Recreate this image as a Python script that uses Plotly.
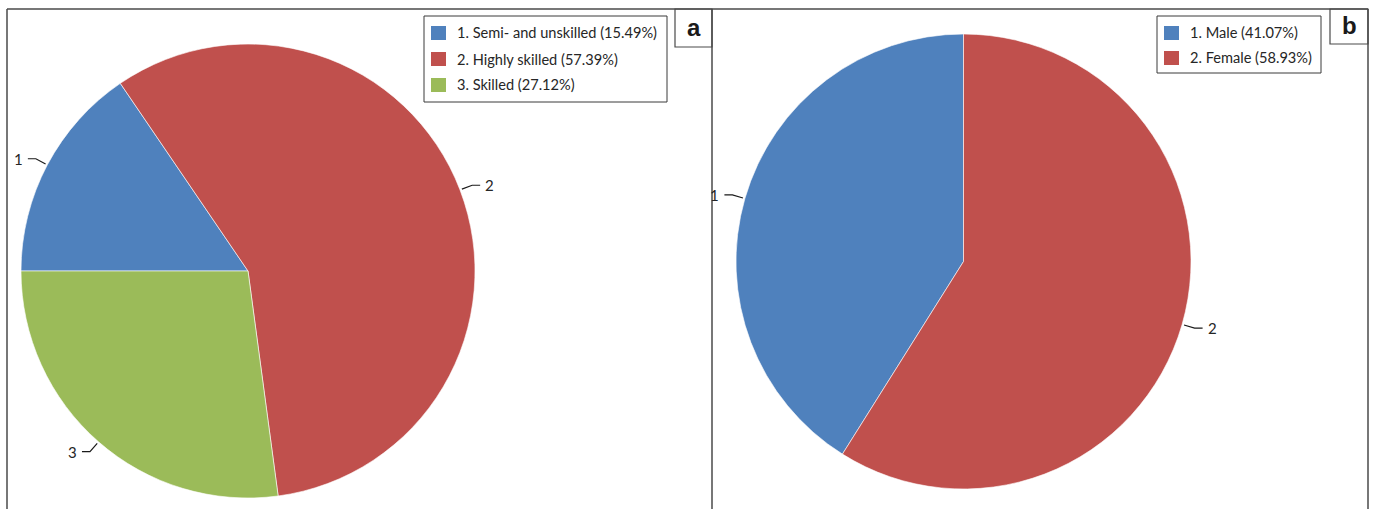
import math
import plotly.graph_objects as go

W, H = 1375, 509

# Panel a: skill level of respondents
skill_labels = ["Semi- and unskilled", "Highly skilled", "Skilled"]
skill_values = [15.49, 57.39, 27.12]

# Panel b: sex of respondents
sex_labels = ["Male", "Female"]
sex_values = [41.07, 58.93]

slice_colors = ["#4F81BD", "#C0504D", "#9BBB59"]

FONT = "Lato, 'Liberation Sans', sans-serif"
TEXT = "#262626"
FRAME = "#4a4a4a"


def px(x):
    return x / W


def py(y):
    return 1 - y / H


# panel b: first slice ends at 12 o'clock, so it starts one slice-width before it
male_start = 360 - 360 * sex_values[0] / sum(sex_values)

panels = [
    dict(labels=skill_labels, values=skill_values, cx=248, cy=271, r=227,
         rotation=270,
         legend_box=(424, 16, 667, 102), text_x=455, row0=33, row_step=26,
         tag="a", tag_box=(675, 9, 712, 47)),
    dict(labels=sex_labels, values=sex_values, cx=963.5, cy=261.5, r=227.5,
         rotation=male_start,
         legend_box=(1157, 16, 1321, 73), text_x=1188, row0=33, row_step=25,
         tag="b", tag_box=(1330, 9, 1368, 44)),
]

fig = go.Figure()
shapes = []
annotations = []

for p in panels:
    n = len(p["values"])
    names = [f"{i + 1}. {lab} ({val:.2f}%)" for i, (lab, val) in enumerate(zip(p["labels"], p["values"]))]
    cx, cy, r = p["cx"], p["cy"], p["r"]
    fig.add_trace(go.Pie(
        labels=names,
        values=p["values"],
        sort=False,
        direction="clockwise",
        rotation=p["rotation"],
        marker=dict(colors=slice_colors[:n], line=dict(color="rgba(255,255,255,0.75)", width=0.8)),
        textinfo="none",
        hoverinfo="label",
        showlegend=False,
        domain=dict(x=[px(cx - r), px(cx + r)], y=[py(cy + r), py(cy - r)]),
    ))

    # slice number labels with bent leader lines, placed at each slice's mid-angle
    total = sum(p["values"])
    cum = 0.0
    for i, v in enumerate(p["values"]):
        mid = (cum + v / 2) / total
        cum += v
        theta = math.radians(p["rotation"] + mid * 360)
        ux, uy = math.sin(theta), -math.cos(theta)
        x0, y0 = cx + (r + 2) * ux, cy + (r + 2) * uy
        x1, y1 = cx + (r + 13) * ux, cy + (r + 13) * uy
        side = 1 if ux >= 0 else -1
        x2, y2 = x1 + side * 8, y1
        shapes.append(dict(
            type="path", xref="paper", yref="paper",
            path=f"M {px(x0)},{py(y0)} L {px(x1)},{py(y1)} L {px(x2)},{py(y2)}",
            line=dict(color="#1a1a1a", width=1.2),
        ))
        annotations.append(dict(
            text=str(i + 1), xref="paper", yref="paper",
            x=px(x2 + side * 3), y=py(y2),
            xanchor="left" if side > 0 else "right", yanchor="middle",
            showarrow=False, font=dict(family=FONT, size=15, color=TEXT),
        ))

    # legend box
    lx0, ly0, lx1, ly1 = p["legend_box"]
    shapes.append(dict(type="rect", xref="paper", yref="paper",
                       x0=px(lx0), x1=px(lx1), y0=py(ly1), y1=py(ly0),
                       line=dict(color="#3a3a3a", width=1), fillcolor="white"))
    for i, name in enumerate(names):
        yc = p["row0"] + i * p["row_step"]
        shapes.append(dict(type="rect", xref="paper", yref="paper",
                           x0=px(lx0 + 7), x1=px(lx0 + 22), y0=py(yc + 7), y1=py(yc - 7),
                           line=dict(width=0), fillcolor=slice_colors[i]))
        annotations.append(dict(
            text=name, xref="paper", yref="paper",
            x=px(p["text_x"]), y=py(yc), xanchor="left", yanchor="middle",
            showarrow=False, font=dict(family=FONT, size=14.6, color=TEXT),
        ))

    # panel tag
    tx0, ty0, tx1, ty1 = p["tag_box"]
    shapes.append(dict(type="rect", xref="paper", yref="paper",
                       x0=px(tx0), x1=px(tx1), y0=py(ty1), y1=py(ty0),
                       line=dict(color=FRAME, width=1.2), fillcolor="white"))
    annotations.append(dict(
        text=f"<b>{p['tag']}</b>", xref="paper", yref="paper",
        x=px((tx0 + tx1) / 2), y=py((ty0 + ty1) / 2 - 1), xanchor="center", yanchor="middle",
        showarrow=False, font=dict(family="'Liberation Sans', Arial, sans-serif", size=24, color="#1a1a1a"),
    ))

# outer frame: top rule, left edge, divider between panels, right edge
for x0, y0, x1, y1 in [(7, 9, 1368, 9), (7, 9, 7, 509), (712, 9, 712, 509), (1368, 9, 1368, 509)]:
    shapes.append(dict(type="line", xref="paper", yref="paper",
                       x0=px(x0), y0=py(y0), x1=px(x1), y1=py(y1),
                       line=dict(color=FRAME, width=1.5)))

fig.update_layout(
    width=W, height=H,
    margin=dict(l=0, r=0, t=0, b=0),
    paper_bgcolor="white", plot_bgcolor="white",
    shapes=shapes, annotations=annotations,
    showlegend=False,
)

fig.write_html("out.html")
